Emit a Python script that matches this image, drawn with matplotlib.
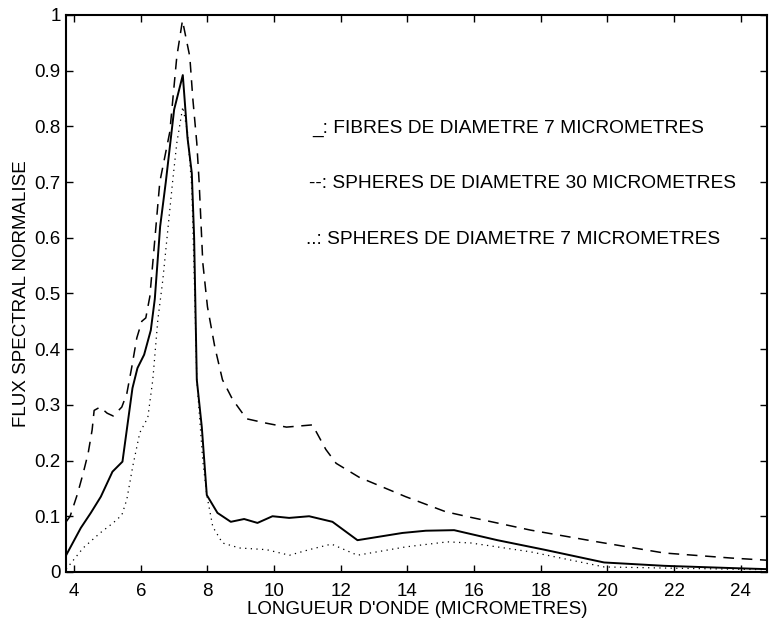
import matplotlib.pyplot as plt

plt.rcParams['font.family'] = ['Liberation Sans', 'DejaVu Sans']

# fibres de diametre 7 micrometres (trait plein)
x_fibres = [3.76, 4.2, 4.5, 4.8, 5.15, 5.45, 5.75, 5.9, 6.1, 6.3, 6.42, 6.58,
            6.75, 7.0, 7.26, 7.4, 7.53, 7.6, 7.68, 7.83, 7.98, 8.3, 8.7, 9.1,
            9.5, 9.95, 10.45, 11.05, 11.75, 12.5, 13.85, 14.55, 15.4, 16.7,
            18.1, 19.9, 21.7, 23.7, 24.8]
y_fibres = [0.03, 0.079, 0.106, 0.135, 0.18, 0.198, 0.33, 0.366, 0.39, 0.434,
            0.49, 0.62, 0.70, 0.83, 0.892, 0.78, 0.716, 0.6, 0.345, 0.26, 0.138,
            0.106, 0.09, 0.095, 0.088, 0.1, 0.097, 0.1, 0.09, 0.057, 0.07,
            0.074, 0.075, 0.057, 0.04, 0.017, 0.011, 0.007, 0.005]

# spheres de diametre 30 micrometres (tirets)
x_sph30 = [3.76, 3.88, 4.1, 4.27, 4.42, 4.54, 4.6, 4.78, 4.99, 5.17, 5.43,
           5.58, 5.73, 5.88, 6.03, 6.15, 6.27, 6.36, 6.57, 6.87, 7.08, 7.25,
           7.47, 7.56, 7.68, 7.75, 7.86, 8.0, 8.22, 8.45, 8.75, 9.17, 9.77,
           10.37, 11.15, 11.55, 11.86, 12.55, 13.95, 15.15, 15.9, 17.7, 19.7,
           21.7, 23.7, 24.8]
y_sph30 = [0.09, 0.1, 0.14, 0.177, 0.213, 0.255, 0.29, 0.296, 0.285, 0.28,
           0.296, 0.32, 0.368, 0.42, 0.45, 0.456, 0.494, 0.555, 0.70, 0.79,
           0.925, 0.99, 0.925, 0.85, 0.77, 0.70, 0.555, 0.476, 0.404, 0.345,
           0.31, 0.275, 0.267, 0.26, 0.264, 0.22, 0.195, 0.17, 0.135, 0.108,
           0.098, 0.075, 0.054, 0.034, 0.025, 0.021]

# spheres de diametre 7 micrometres (pointilles)
x_sph7 = [3.76, 4.27, 4.78, 5.17, 5.43, 5.58, 5.76, 5.97, 6.21, 6.36, 6.51,
          6.66, 6.81, 6.96, 7.08, 7.26, 7.4, 7.53, 7.62, 7.68, 7.86, 7.98,
          8.16, 8.45, 8.96, 9.77, 10.46, 11.05, 11.72, 12.5, 13.95, 15.2,
          15.9, 17.7, 19.9, 21.7, 24.8]
y_sph7 = [0.005, 0.043, 0.07, 0.088, 0.102, 0.13, 0.19, 0.25, 0.277, 0.345,
          0.452, 0.524, 0.614, 0.704, 0.77, 0.835, 0.79, 0.69, 0.494, 0.345,
          0.2, 0.138, 0.081, 0.052, 0.043, 0.04, 0.03, 0.04, 0.05, 0.03, 0.045,
          0.054, 0.052, 0.036, 0.009, 0.007, 0.004]

x_ticks = [4, 6, 8, 10, 12, 14, 16, 18, 20, 22, 24]
y_ticks = [0, 0.1, 0.2, 0.3, 0.4, 0.5, 0.6, 0.7, 0.8, 0.9, 1]
y_ticklabels = ['0', '0.1', '0.2', '0.3', '0.4', '0.5', '0.6', '0.7', '0.8', '0.9', '1']

legende = ['_: FIBRES DE DIAMETRE 7 MICROMETRES',
           '--: SPHERES DE DIAMETRE 30 MICROMETRES',
           '..: SPHERES DE DIAMETRE 7 MICROMETRES']

fig = plt.figure(figsize=(7.69, 6.21), dpi=100)
ax = fig.add_axes([0.086, 0.079, 0.912, 0.897])

ax.plot(x_fibres, y_fibres, color='black', lw=1.4)
ax.plot(x_sph30, y_sph30, color='black', lw=1.1, linestyle=(0, (7, 5)))
ax.plot(x_sph7, y_sph7, color='black', lw=0.9, linestyle=(0, (1, 3.5)))

ax.set_xlim(3.76, 24.8)
ax.set_ylim(0, 1)
ax.set_xticks(x_ticks)
ax.set_yticks(y_ticks)
ax.set_yticklabels(y_ticklabels)
ax.tick_params(direction='in', top=True, right=True, length=5, width=1,
               labelsize=13.5, pad=4)
ax.tick_params(axis='x', pad=8)
for s in ax.spines.values():
    s.set_linewidth(1.5)

ax.set_xlabel("LONGUEUR D'ONDE (MICROMETRES)", fontsize=13.5, labelpad=1)
ax.set_ylabel('FLUX SPECTRAL NORMALISE', fontsize=13.5, labelpad=3)

ax.text(11.14, 0.797, legende[0], fontsize=13.8, va='center', ha='left')
ax.text(11.06, 0.697, legende[1], fontsize=13.8, va='center', ha='left')
ax.text(10.97, 0.596, legende[2], fontsize=13.8, va='center', ha='left')

fig.savefig('out.png', dpi=100)
